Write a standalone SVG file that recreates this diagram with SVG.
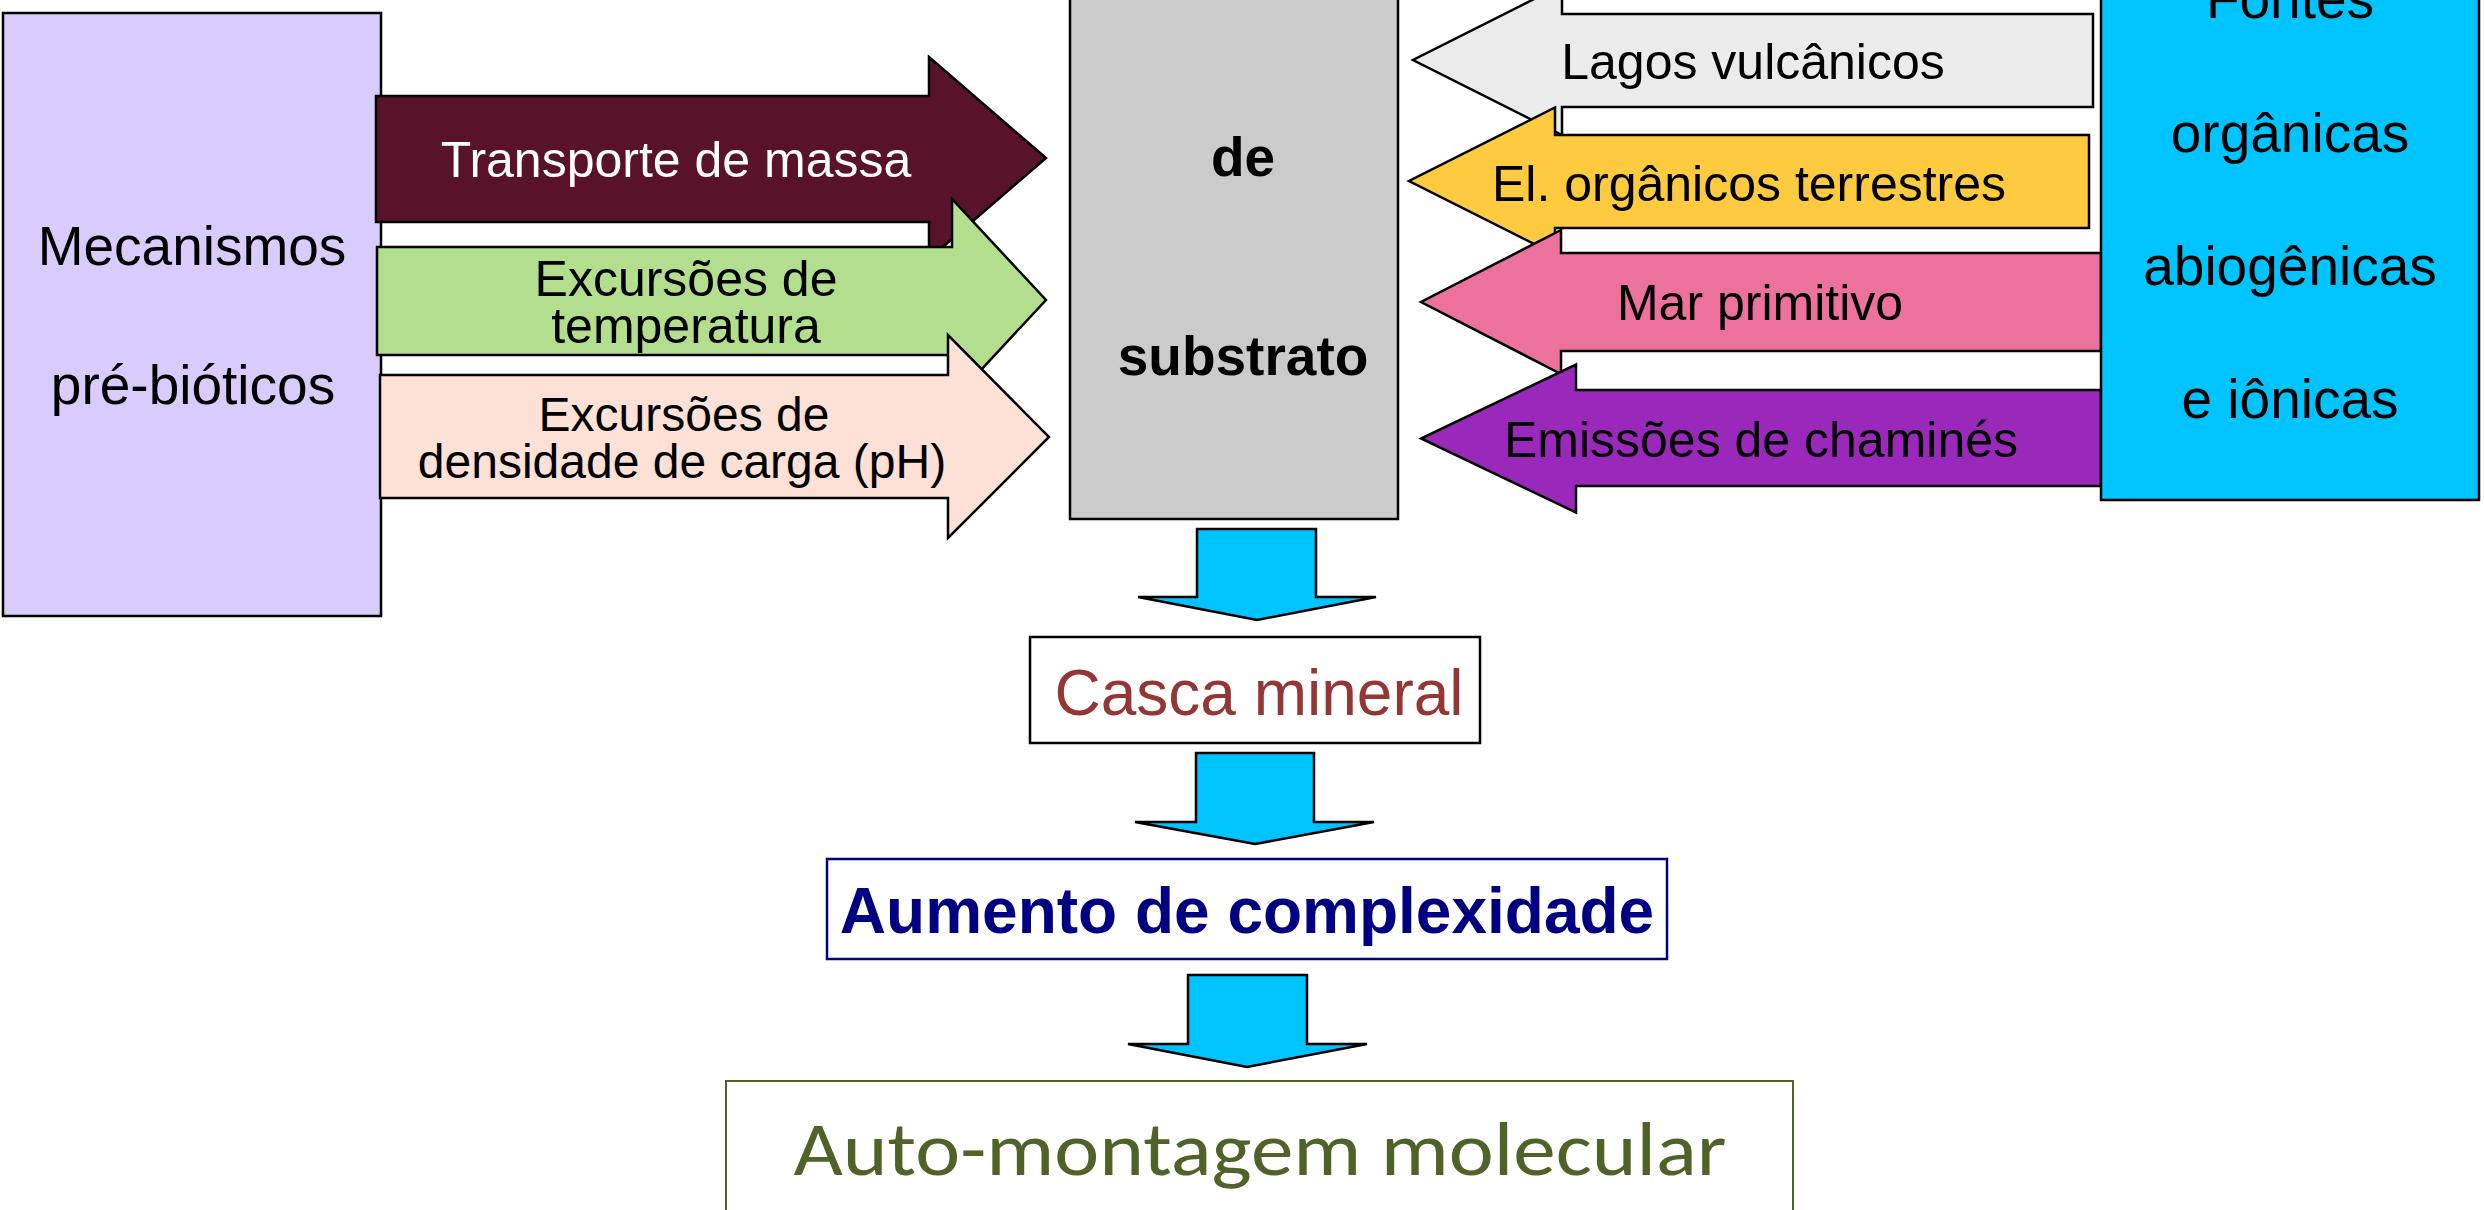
<svg xmlns="http://www.w3.org/2000/svg" width="2484" height="1210" viewBox="0 0 2484 1210">
<style>
.t{font-family:"Liberation Sans",Arial,sans-serif;text-anchor:middle;fill:#000}
.b{font-weight:bold}
.s{stroke:#000;stroke-width:2.5;stroke-linejoin:miter}
.dn{fill:#00C4FF;stroke:#000;stroke-width:2.5;stroke-linejoin:miter}
</style>
<rect width="2484" height="1210" fill="#fff"/>

<g id="mecanismos">
<rect class="s" x="3" y="13" width="378" height="603" fill="#D9CBFB"/>
<text class="t" x="192" y="265" font-size="55">Mecanismos</text>
<text class="t" x="193" y="404" font-size="55">pré-bióticos</text>
</g>

<g id="transporte">
<polygon class="s" fill="#58122A" points="376,96 929,96 929,57 1046,158 929,259 929,222 376,222"/>
<text class="t" x="676" y="177" font-size="50" style="fill:#fff">Transporte de massa</text>
</g>

<g id="temperatura">
<polygon class="s" fill="#B2DE8E" points="377,247 952,247 952,199 1046,300 952,401 952,355 377,355"/>
<text class="t" x="686" y="296" font-size="50">Excursões de</text>
<text class="t" x="686" y="343" font-size="50">temperatura</text>
</g>

<g id="densidade">
<polygon class="s" fill="#FDE1D6" points="380,375 948,375 948,335 1049,437 948,538 948,498 380,498"/>
<text class="t" x="684" y="431" font-size="48">Excursões de</text>
<text class="t" x="682" y="478" font-size="48">densidade de carga (pH)</text>
</g>

<g id="substrato">
<rect class="s" x="1070" y="-10" width="328" height="529" fill="#CBCBCB"/>
<text class="t b" x="1243" y="176" font-size="55">de</text>
<text class="t b" x="1243" y="375" font-size="55">substrato</text>
</g>

<g id="lagos">
<polygon class="s" fill="#EBEBEB" points="2093,14 1562,14 1562,-15 1413,60 1562,135 1562,107 2093,107"/>
<text class="t" x="1753" y="79" font-size="50">Lagos vulcânicos</text>
</g>

<g id="terrestres">
<polygon class="s" fill="#FECA3F" points="2089,135 1555,135 1555,107.5 1409,181 1555,254.5 1555,228 2089,228"/>
<text class="t" x="1749" y="201" font-size="50">El. orgânicos terrestres</text>
</g>

<g id="mar">
<polygon class="s" fill="#ED719D" points="2101,253 1561,253 1561,230 1421,302 1561,374 1561,351 2101,351"/>
<text class="t" x="1760" y="320" font-size="50">Mar primitivo</text>
</g>

<g id="chamines">
<polygon class="s" fill="#9A28BA" points="2101,390 1576,390 1576,364.5 1421,438.5 1576,512.5 1576,486 2101,486"/>
<text class="t" x="1761" y="457" font-size="50">Emissões de chaminés</text>
</g>

<g id="fontes">
<rect class="s" x="2101" y="-10" width="378" height="510" fill="#00C4FF"/>
<text class="t" x="2290" y="18" font-size="55">Fontes</text>
<text class="t" x="2290" y="152" font-size="55">orgânicas</text>
<text class="t" x="2290" y="285" font-size="55">abiogênicas</text>
<text class="t" x="2290" y="418" font-size="55">e iônicas</text>
</g>

<g id="connectors">
<polygon class="dn" points="1197,529 1316,529 1316,597 1376,597 1257,620 1138,597 1197,597"/>
<polygon class="dn" points="1196,753 1314,753 1314,822 1374,822 1255,844 1135,822 1196,822"/>
<polygon class="dn" points="1188,975 1307,975 1307,1044 1367,1044 1247,1067 1128,1044 1188,1044"/>
</g>

<g id="casca">
<rect x="1030" y="637" width="450" height="106" fill="#fff" stroke="#000" stroke-width="2.5"/>
<text class="t" x="1259" y="715" font-size="64" style="fill:#943634">Casca mineral</text>
</g>

<g id="aumento">
<rect x="827" y="859" width="840" height="100" fill="#fff" stroke="#000080" stroke-width="2.5"/>
<text class="t b" x="1247" y="933" font-size="64" style="fill:#000080">Aumento de complexidade</text>
</g>

<g id="automontagem">
<rect x="726" y="1081" width="1067" height="160" fill="#fff" stroke="#4F6228" stroke-width="2"/>
<text x="1260" y="1175" font-family="Carlito, Lato, sans-serif" font-size="76" text-anchor="middle" fill="#4F6228" textLength="933" lengthAdjust="spacingAndGlyphs">Auto-montagem molecular</text>
</g>
</svg>
